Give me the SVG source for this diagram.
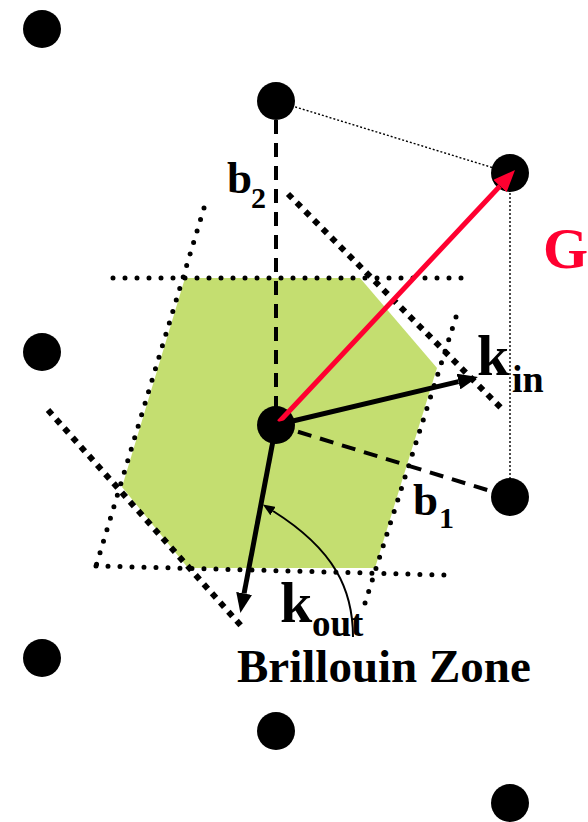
<svg xmlns="http://www.w3.org/2000/svg" width="588" height="822" viewBox="0 0 588 822">
<style>
.dot{fill:#000}
.rd{fill:none;stroke:#000;stroke-width:5;stroke-linecap:round;stroke-dasharray:0 12}
.sq{fill:none;stroke:#000;stroke-width:6;stroke-linecap:butt;stroke-dasharray:6 6.3}
.dash{fill:none;stroke:#000;stroke-width:4;stroke-dasharray:14 9}
.thin{fill:none;stroke:#000;stroke-width:1.4;stroke-dasharray:2 2}
.t{font-family:"Liberation Serif","Times New Roman",serif;font-weight:bold;fill:#000}
</style>
<defs>
<marker id="ahR" markerUnits="userSpaceOnUse" markerWidth="22" markerHeight="18" viewBox="0 0 22 18" refX="0" refY="9" orient="auto"><path d="M0,0 L22,9 L0,18 z" fill="#ff0030"/></marker>
<marker id="ahK" markerUnits="userSpaceOnUse" markerWidth="20" markerHeight="16" viewBox="0 0 20 16" refX="0" refY="8" orient="auto"><path d="M0,0 L20,8 L0,16 z" fill="#000"/></marker>
<marker id="ahS" markerUnits="userSpaceOnUse" markerWidth="12" markerHeight="10" viewBox="0 0 12 10" refX="0" refY="5" orient="auto"><path d="M0,0 L12,5 L0,10 z" fill="#000"/></marker>
</defs>
<rect width="588" height="822" fill="#fff"/>
<g id="brillouin-zone">
<polygon points="185,278 360,278 437,368 375,568 188,568 122,487" fill="#c4de70"/>
</g>
<g id="zone-boundaries">
<line class="rd" x1="113" y1="278" x2="462" y2="278"/>
<line class="rd" x1="96" y1="566" x2="444" y2="575"/>
<line class="rd" x1="204" y1="208" x2="96" y2="566"/>
<line class="rd" x1="456" y1="317" x2="365" y2="603"/>
<line class="sq" x1="288" y1="194" x2="502" y2="409"/>
<line class="sq" x1="48" y1="410" x2="243" y2="628"/>
</g>
<g id="connectors">
<line class="thin" x1="276" y1="101" x2="510" y2="173"/>
<line class="thin" x1="510" y1="173" x2="510" y2="497"/>
<line class="dash" x1="276" y1="120" x2="276" y2="425"/>
<line class="dash" x1="276" y1="425" x2="510" y2="497"/>
</g>
<g id="lattice-points">
<circle id="p1" class="dot" cx="42" cy="29" r="19"/>
<circle id="p2" class="dot" cx="276" cy="101" r="19"/>
<circle id="p3" class="dot" cx="510" cy="173" r="19"/>
<circle id="p4" class="dot" cx="42" cy="352" r="19"/>
<circle id="p5" class="dot" cx="276" cy="425" r="19"/>
<circle id="p6" class="dot" cx="510" cy="497" r="19"/>
<circle id="p7" class="dot" cx="42" cy="658" r="19"/>
<circle id="p8" class="dot" cx="276" cy="731" r="19"/>
<circle id="p9" class="dot" cx="510" cy="803" r="19"/>
</g>
<g id="vectors">
<line x1="279" y1="422" x2="500" y2="186" stroke="#ff0030" stroke-width="5" marker-end="url(#ahR)"/>
<line x1="276" y1="425" x2="458.5" y2="381.6" stroke="#000" stroke-width="5" marker-end="url(#ahK)"/>
<line x1="276" y1="425" x2="244.1" y2="593.4" stroke="#000" stroke-width="5" marker-end="url(#ahK)"/>
<path d="M353,637 C353,590 335,550 273,511" fill="none" stroke="#000" stroke-width="2" marker-end="url(#ahS)"/>
</g>
<g id="labels">
<text class="t" x="227" y="193" font-size="45">b<tspan x="251" y="208" font-size="30">2</tspan></text>
<text class="t" x="413" y="515" font-size="45">b<tspan x="439" y="528" font-size="30">1</tspan></text>
<text class="t" x="543" y="268" font-size="58" style="fill:#ff0030">G</text>
<text class="t" x="477" y="375" font-size="58">k<tspan x="512" y="392" font-size="38">in</tspan></text>
<text class="t" x="280" y="622" font-size="58">k<tspan x="312" y="636" font-size="37">out</tspan></text>
<text class="t" x="237" y="682" font-size="47">Brillouin Zone</text>
</g>
</svg>
